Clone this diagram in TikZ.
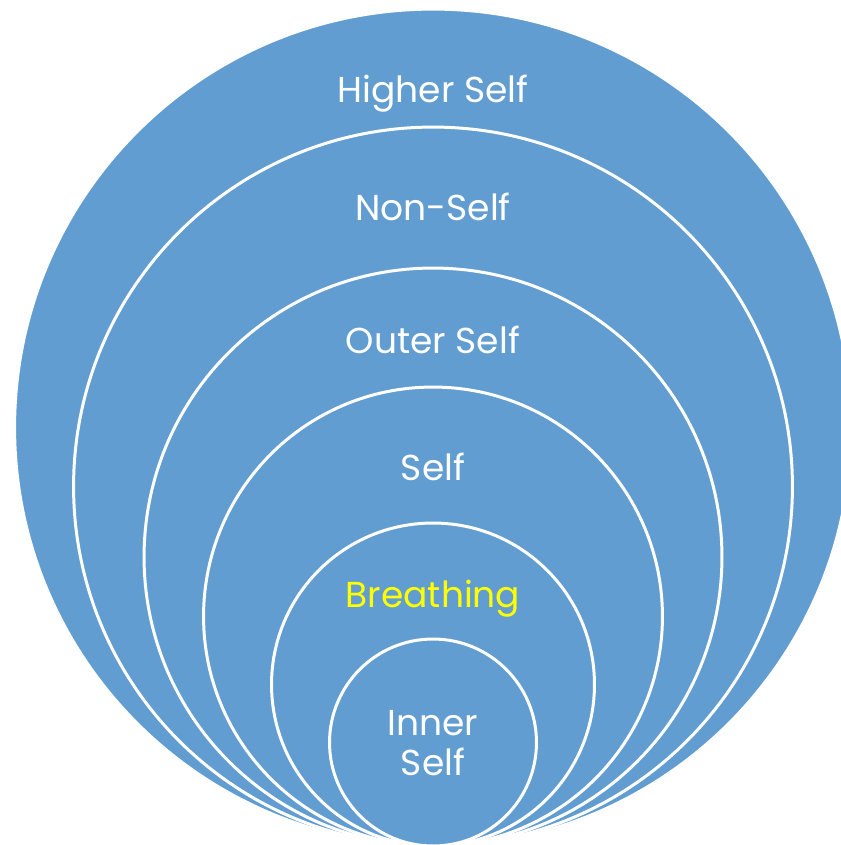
\documentclass[tikz,border=0pt]{standalone}
\usepackage{fontspec}
\setmainfont{Poppins}
\usepackage{tikz}
\definecolor{skyblue}{HTML}{629DD1}
\definecolor{breathyellow}{HTML}{FFFF00}

\begin{document}
\begin{tikzpicture}[x=0.02cm,y=-0.02cm,
		band/.style={circle,fill=skyblue,draw=white,line width=1.7pt,inner sep=0pt},
		caption/.style={text=white,anchor=base,align=center,inner sep=0pt,font=\fontsize{20.5}{22.7}\selectfont},
		]
		\useasboundingbox (0,0) rectangle (841,845);
		\clip (0,0) rectangle (841,845);

		\node[band,minimum size=16.74cm](c1) at (433,427.5) {};
		\node[band,minimum size=14.38cm](c2) at (433,486.5) {};
		\node[band,minimum size=11.56cm](c3) at (433,557) {};
		\node[band,minimum size=9.18cm ](c4) at (433,616.5) {};
		\node[band,minimum size=6.46cm ](c5) at (433,684.5) {};
		\node[band,minimum size=4.14cm ](c6) at (433,742.5) {};

		\node[caption](t1) at (433,102) {Higher Self};
		\node[caption](t2) at (433,220) {Non-Self};
		\node[caption](t3) at (433,353) {Outer Self};
		\node[caption](t4) at (433,480) {Self};
		\node[caption,text=breathyellow](t5) at (433,607) {Breathing};
		\node[caption](t6) at (433,775) {Inner\\Self};
	\end{tikzpicture}
\end{document}
